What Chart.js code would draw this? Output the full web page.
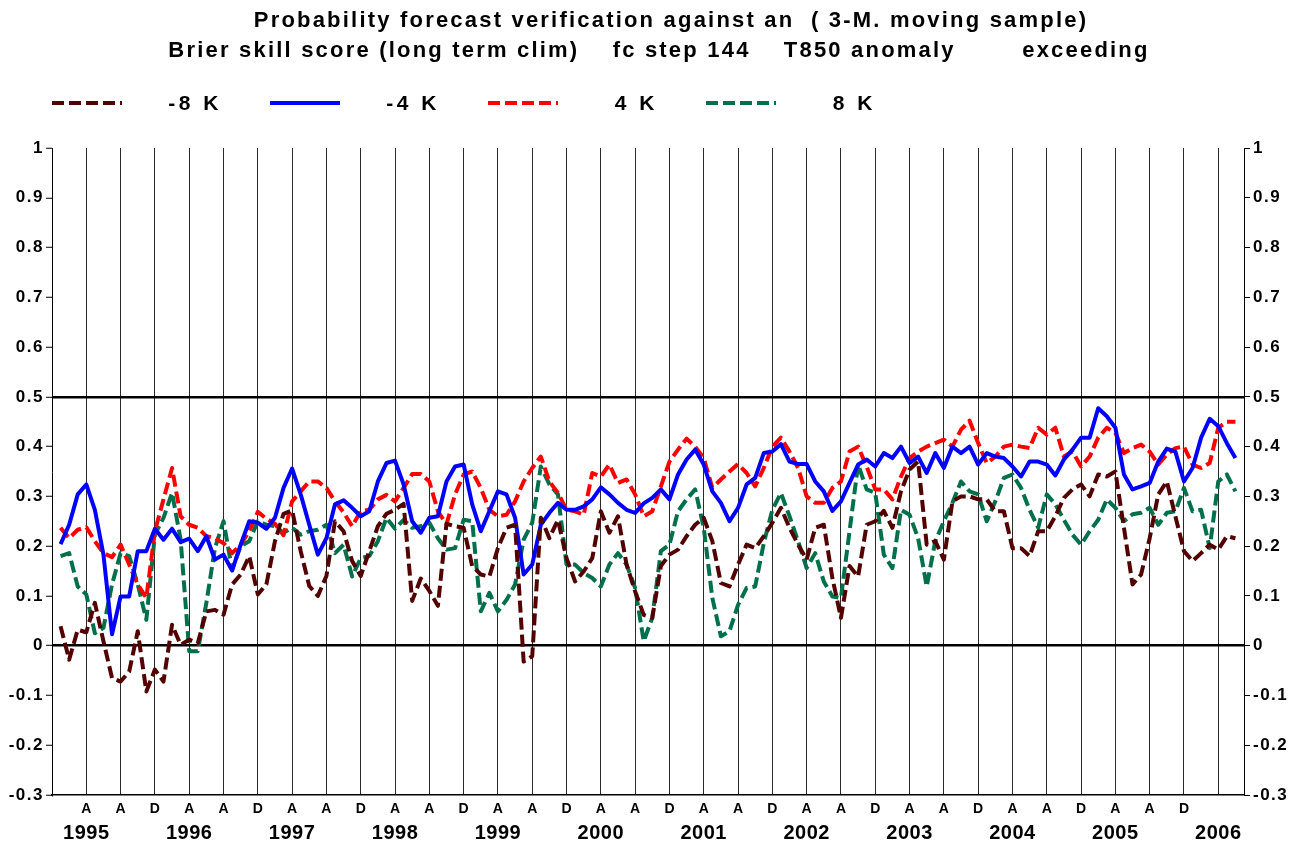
<!DOCTYPE html>
<html lang="en">
<head>
<meta charset="UTF-8">
<title>Brier skill score - T850 anomaly</title>
<script src="https://cdn.jsdelivr.net/npm/chart.js"></script>
<style>
  html, body { margin: 0; padding: 0; background: #fff; }
  canvas { display: block; }
</style>
</head>
<body>
<canvas id="bss" width="1305" height="846"></canvas>
<script>
// monthly values, Jan 1995 ... Jun 2006
const minus8 = [0.039, -0.028, 0.032, 0.027, 0.086, 0.009, -0.065, -0.072, -0.052, 0.029, -0.092, -0.048, -0.072, 0.042, 0.002, 0.012, 0.005, 0.069, 0.072, 0.062, 0.123, 0.143, 0.18,
  0.103, 0.123, 0.21, 0.265, 0.272, 0.19, 0.12, 0.1, 0.14, 0.25, 0.23, 0.17, 0.14, 0.19, 0.24, 0.265, 0.273, 0.285, 0.09, 0.135, 0.11, 0.08, 0.245,
  0.24, 0.237, 0.16, 0.143, 0.139, 0.196, 0.237, 0.243, -0.032, -0.021, 0.257, 0.216, 0.253, 0.176, 0.129, 0.149, 0.176, 0.27, 0.227, 0.26, 0.163, 0.109, 0.062,
  0.056, 0.16, 0.183, 0.193, 0.22, 0.243, 0.257, 0.21, 0.126, 0.119, 0.163, 0.203, 0.196, 0.22, 0.247, 0.277, 0.237, 0.203, 0.173, 0.237, 0.243, 0.136,
  0.056, 0.16, 0.139, 0.243, 0.25, 0.271, 0.237, 0.31, 0.354, 0.37, 0.203, 0.21, 0.173, 0.29, 0.3, 0.3, 0.294, 0.294, 0.27, 0.27, 0.196, 0.196, 0.18,
  0.23, 0.23, 0.26, 0.297, 0.314, 0.324, 0.3, 0.344, 0.34, 0.35, 0.237, 0.123, 0.143, 0.216, 0.304, 0.33, 0.26, 0.19, 0.17, 0.186, 0.203, 0.193, 0.22, 0.216];
const minus4 = [0.204, 0.243, 0.304, 0.324, 0.273, 0.183, 0.023, 0.099, 0.099, 0.19, 0.19, 0.235, 0.213, 0.235, 0.208, 0.215, 0.19, 0.22, 0.173, 0.183, 0.151, 0.203, 0.25,
  0.247, 0.235, 0.257, 0.317, 0.356, 0.304, 0.243, 0.183, 0.216, 0.284, 0.292, 0.277, 0.26, 0.27, 0.33, 0.367, 0.372, 0.324, 0.25, 0.227, 0.257, 0.26, 0.33,
  0.36, 0.364, 0.284, 0.23, 0.27, 0.31, 0.304, 0.257, 0.143, 0.163, 0.243, 0.267, 0.287, 0.273, 0.273, 0.28, 0.294, 0.318, 0.304, 0.287, 0.273, 0.267, 0.286,
  0.297, 0.314, 0.294, 0.344, 0.374, 0.394, 0.364, 0.31, 0.287, 0.25, 0.277, 0.324, 0.337, 0.387, 0.39, 0.405, 0.37, 0.365, 0.365, 0.33, 0.31, 0.271,
  0.29, 0.327, 0.364, 0.374, 0.36, 0.387, 0.377, 0.4, 0.367, 0.38, 0.347, 0.387, 0.357, 0.4, 0.387, 0.4, 0.364, 0.387, 0.38, 0.377, 0.36, 0.34, 0.37,
  0.37, 0.364, 0.342, 0.374, 0.394, 0.418, 0.418, 0.477, 0.461, 0.438, 0.344, 0.314, 0.32, 0.327, 0.37, 0.396, 0.39, 0.33, 0.357, 0.418, 0.456, 0.441, 0.407, 0.377];
const plus4 = [0.237, 0.216, 0.233, 0.238, 0.21, 0.186, 0.178, 0.203, 0.163, 0.123, 0.096, 0.23, 0.294, 0.357, 0.26, 0.243, 0.237, 0.22, 0.216, 0.206, 0.186, 0.203, 0.23,
  0.269, 0.255, 0.245, 0.222, 0.29, 0.31, 0.33, 0.33, 0.317, 0.29, 0.268, 0.24, 0.27, 0.273, 0.294, 0.303, 0.29, 0.317, 0.345, 0.345, 0.33, 0.27, 0.244,
  0.304, 0.344, 0.35, 0.317, 0.273, 0.26, 0.263, 0.29, 0.33, 0.357, 0.38, 0.33, 0.307, 0.273, 0.27, 0.263, 0.347, 0.34, 0.364, 0.327, 0.334, 0.304, 0.26,
  0.27, 0.32, 0.37, 0.394, 0.416, 0.4, 0.377, 0.317, 0.334, 0.35, 0.365, 0.347, 0.32, 0.357, 0.4, 0.418, 0.39, 0.357, 0.3, 0.287, 0.287, 0.317,
  0.33, 0.39, 0.4, 0.36, 0.314, 0.314, 0.294, 0.34, 0.377, 0.39, 0.4, 0.407, 0.414, 0.4, 0.434, 0.452, 0.407, 0.367, 0.38, 0.4, 0.404, 0.4, 0.397,
  0.438, 0.424, 0.438, 0.38, 0.39, 0.36, 0.38, 0.418, 0.438, 0.428, 0.387, 0.397, 0.404, 0.39, 0.364, 0.384, 0.397, 0.4, 0.364, 0.357, 0.367, 0.438, 0.45, 0.45];
const plus8 = [0.18, 0.186, 0.119, 0.103, 0.025, 0.036, 0.123, 0.186, 0.18, 0.123, 0.052, 0.223, 0.257, 0.307, 0.213, -0.011, -0.011, 0.086, 0.196, 0.25, 0.153, 0.2, 0.21,
  0.25, 0.243, 0.24, 0.227, 0.237, 0.223, 0.23, 0.233, 0.243, 0.186, 0.203, 0.139, 0.176, 0.18, 0.21, 0.257, 0.235, 0.253, 0.237, 0.24, 0.247, 0.216, 0.193,
  0.196, 0.253, 0.25, 0.069, 0.106, 0.069, 0.092, 0.123, 0.213, 0.247, 0.36, 0.324, 0.304, 0.163, 0.163, 0.146, 0.136, 0.119, 0.163, 0.186, 0.163, 0.116, 0.009,
  0.056, 0.19, 0.203, 0.27, 0.294, 0.314, 0.237, 0.096, 0.019, 0.029, 0.082, 0.116, 0.119, 0.206, 0.273, 0.307, 0.26, 0.21, 0.156, 0.186, 0.129, 0.099,
  0.096, 0.23, 0.364, 0.314, 0.307, 0.183, 0.156, 0.273, 0.263, 0.216, 0.119, 0.21, 0.25, 0.287, 0.33, 0.31, 0.304, 0.25, 0.29, 0.337, 0.344, 0.317, 0.273,
  0.237, 0.304, 0.284, 0.253, 0.223, 0.203, 0.23, 0.253, 0.294, 0.277, 0.25, 0.264, 0.267, 0.277, 0.243, 0.267, 0.27, 0.317, 0.27, 0.273, 0.196, 0.33, 0.344, 0.31];

// x runs in months counted from Dec 1994 (1 = Jan 1995)
const months = minus4.map((v, i) => i + 1);
const seasonTicks = [4, 8, 12, 16, 20, 24, 28, 32, 36, 40, 44, 48, 52, 56, 60, 64, 68, 72, 76, 80, 84, 88, 92, 96, 100, 104, 108, 112, 116, 120, 124, 128, 132, 136];
const seasonLabels = ['A', 'A', 'D', 'A', 'A', 'D', 'A', 'A', 'D', 'A', 'A', 'D', 'A', 'A', 'D', 'A', 'A', 'D', 'A', 'A', 'D', 'A', 'A', 'D', 'A', 'A', 'D', 'A', 'A', 'D', 'A', 'A', 'D', ''];
const yearTicks = [4, 16, 28, 40, 52, 64, 76, 88, 100, 112, 124, 136];
const yearLabels = ['1995', '1996', '1997', '1998', '1999', '2000', '2001', '2002', '2003', '2004', '2005', '2006'];
const seriesNames = ['-8 K', '-4 K', '4 K', '8 K'];
const titleLines = ['Probability forecast verification against an  ( 3-M. moving sample)',
  'Brier skill score (long term clim)    fc step 144    T850 anomaly        exceeding'];

const FONT = '"Liberation Sans", Arial, sans-serif';
const pts = vals => vals.map((v, i) => ({ x: months[i], y: v }));

// the original lettering is a little wider than Arial, so space it out per axis
const spacing = { x: '0px', x2: '0.5px', y: '1.5px', y2: '1.5px' };

const headerPlugin = {
  id: 'header',
  beforeDraw(chart) {
    Object.values(chart.scales).forEach(s => {
      if (s._spaced) return;
      const drawLabels = s.drawLabels.bind(s);
      s.drawLabels = area => {
        chart.ctx.save();
        chart.ctx.letterSpacing = spacing[s.id] || '0px';
        drawLabels(area);
        chart.ctx.restore();
      };
      s._spaced = true;
    });
  },
  afterDraw(chart) {
    const ctx = chart.ctx;
    ctx.save();
    ctx.fillStyle = '#000';
    ctx.textBaseline = 'middle';
    ctx.textAlign = 'center';
    ctx.font = 'bold 22px ' + FONT;
    ctx.letterSpacing = '2.2px';
    ctx.fillText(titleLines[0], 671, 21);
    ctx.fillText(titleLines[1], 659, 51);
    ctx.font = 'bold 21px ' + FONT;
    ctx.letterSpacing = '3.5px';
    chart.data.datasets.forEach((ds, i) => {
      const x0 = 52 + 218 * i;
      ctx.beginPath();
      ctx.strokeStyle = ds.borderColor;
      ctx.lineWidth = ds.borderWidth;
      ctx.setLineDash(ds.borderDash || []);
      ctx.moveTo(x0, 103);
      ctx.lineTo(x0 + 70, 103);
      ctx.stroke();
      ctx.setLineDash([]);
      ctx.textAlign = 'right';
      ctx.fillText(ds.label, x0 + 170, 104);
    });
    ctx.restore();
  }
};

const fmtY = v => String(Math.round(v * 10) / 10);
const isRef = v => Math.abs(v) < 1e-6 || Math.abs(v - 0.5) < 1e-6;

new Chart(document.getElementById('bss'), {
  type: 'line',
  data: {
    datasets: [
      { label: seriesNames[0], data: pts(minus8), borderColor: '#520000', borderWidth: 4, borderDash: [12, 5] },
      { label: seriesNames[1], data: pts(minus4), borderColor: '#0000ff', borderWidth: 4 },
      { label: seriesNames[2], data: pts(plus4), borderColor: '#ff0000', borderWidth: 4, borderDash: [12, 5] },
      { label: seriesNames[3], data: pts(plus8), borderColor: '#00704a', borderWidth: 4, borderDash: [12, 5] }
    ]
  },
  options: {
    responsive: false,
    devicePixelRatio: 1,
    animation: false,
    layout: { padding: { top: 148, left: 0, right: 0, bottom: 0 } },
    elements: { point: { radius: 0 }, line: { tension: 0, borderJoinStyle: 'round' } },
    plugins: { legend: { display: false }, title: { display: false }, tooltip: { enabled: false } },
    scales: {
      x: {
        type: 'linear', min: 0, max: 139,
        afterBuildTicks: axis => { axis.ticks = seasonTicks.map(v => ({ value: v })); },
        afterFit: axis => { axis.height = 25; },
        ticks: {
          autoSkip: false, maxRotation: 0, padding: 6, color: '#000',
          font: { family: FONT, size: 14, weight: 'bold' },
          callback: (v, i) => seasonLabels[i]
        },
        grid: { color: '#2a2a2a', lineWidth: 1, drawTicks: false },
        border: { color: '#000', width: 1.5 }
      },
      x2: {
        type: 'linear', min: 0, max: 139, position: 'bottom', weight: 1,
        afterBuildTicks: axis => { axis.ticks = yearTicks.map(v => ({ value: v })); },
        afterFit: axis => { axis.height = 26; },
        ticks: {
          autoSkip: false, maxRotation: 0, padding: 1, color: '#000',
          font: { family: FONT, size: 20, weight: 'bold' },
          callback: (v, i) => yearLabels[i]
        },
        grid: { display: false, drawTicks: false },
        border: { display: false }
      },
      y: {
        min: -0.3, max: 1, position: 'left',
        afterFit: axis => { axis.width = 52; },
        ticks: { stepSize: 0.1, padding: 2, color: '#000', font: { family: FONT, size: 17, weight: 'bold' }, callback: fmtY },
        grid: {
          color: c => isRef(c.tick.value) ? '#000' : 'rgba(0,0,0,0)',
          lineWidth: 2.5, tickColor: '#000', tickWidth: 1, tickLength: 6
        },
        border: { color: '#000', width: 1 }
      },
      y2: {
        min: -0.3, max: 1, position: 'right',
        afterFit: axis => { axis.width = 61; },
        ticks: { stepSize: 0.1, padding: 3, color: '#000', font: { family: FONT, size: 17, weight: 'bold' }, callback: fmtY },
        grid: { drawOnChartArea: false, tickColor: '#000', tickWidth: 1, tickLength: 6 },
        border: { color: '#000', width: 1 }
      }
    }
  },
  plugins: [headerPlugin]
});
</script>
</body>
</html>
